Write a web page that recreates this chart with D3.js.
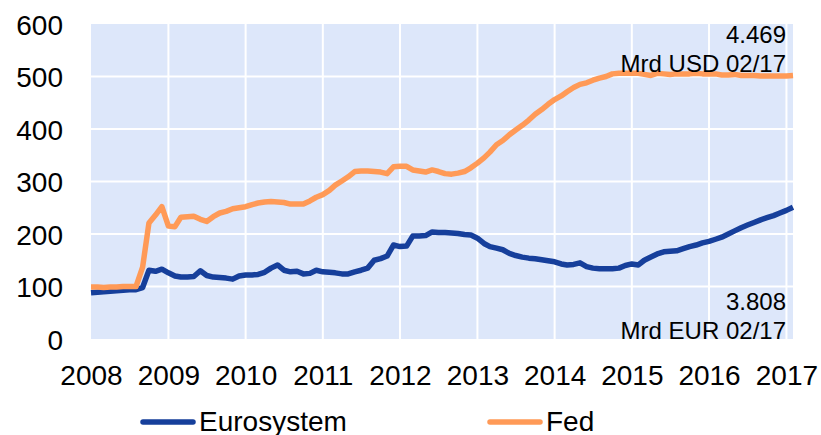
<!DOCTYPE html>
<html>
<head>
<meta charset="utf-8">
<script src="https://cdn.jsdelivr.net/npm/d3@7"></script>
<style>
body { margin: 0; background: #fff; }
svg { display: block; font-family: "Liberation Sans", Arial, sans-serif; }
</style>
</head>
<body>
<div id="chart"></div>
<script>
// monthly index values, Jan 2008 = ~100, from 01/2008 to 02/2017
var startMonth = "2008-01";
var eurosystem = [
    88, 89, 90, 91, 92, 93, 94, 94, 98, 131, 129, 133,
    126, 120, 118, 118, 119, 130, 121, 118, 117, 116, 114, 120,
    122, 122, 123, 127, 135, 141, 131, 128, 129, 124, 125, 131,
    128, 127, 126, 124, 124, 128, 131, 135, 150, 153, 158, 179,
    176, 177, 196, 196, 197, 204, 203, 203, 202, 201, 199, 198,
    192, 182, 176, 173, 170, 163, 159, 156, 154, 153, 151, 149,
    147, 143, 141, 142, 145, 138, 135, 134, 134, 134, 135, 140,
    143, 141, 150, 156, 162, 166, 167, 168, 172, 176, 179, 183,
    186, 190, 194, 200, 206, 212, 217, 222, 227, 231, 235, 240,
    245, 251
];
var fed = [
    99, 99, 98, 99, 99, 100, 100, 100, 137, 221, 236, 252,
    215, 214, 232, 233, 234, 228, 224, 233, 240, 243, 248, 250,
    252, 256, 259, 261, 262, 261, 260, 257, 257, 257, 263, 270,
    275, 283, 293, 301, 309, 319, 320, 320, 319, 318, 315, 328,
    329, 329, 322, 320, 318, 322, 319, 315, 314, 316, 319, 326,
    335, 345, 356, 370, 378, 389, 398, 407, 417, 428, 437, 447,
    456, 463, 471, 479, 485, 488, 493, 497, 500, 505, 506, 506,
    506, 506, 504, 502, 506, 505, 504, 505, 505, 505, 506, 505,
    505, 505, 503, 503, 504, 502, 502, 502, 501, 501, 501, 501,
    501, 502
];
var seriesNames = ["Eurosystem", "Fed"];
var seriesColors = ["#163f9b", "#ff9a57"];
var yTicks = [0, 100, 200, 300, 400, 500, 600];
var xYears = [2008, 2009, 2010, 2011, 2012, 2013, 2014, 2015, 2016, 2017];
var fedNote = ["4.469", "Mrd USD 02/17"];
var eurNote = ["3.808", "Mrd EUR 02/17"];

var width = 821;
var height = 435;
var plot = { left: 91, right: 793, top: 24, bottom: 339 };

var parseMonth = d3.timeParse("%Y-%m");
var start = parseMonth(startMonth);
var dates = eurosystem.map(function (d, i) { return d3.timeMonth.offset(start, i); });

var x = d3.scaleTime()
    .domain([start, dates[dates.length - 1]])
    .range([plot.left, plot.right]);
var y = d3.scaleLinear()
    .domain([0, 600])
    .range([plot.bottom, plot.top]);

var svg = d3.select("#chart").append("svg")
    .attr("width", width)
    .attr("height", height);

svg.append("rect")
    .attr("x", plot.left)
    .attr("y", plot.top)
    .attr("width", plot.right - plot.left)
    .attr("height", plot.bottom - plot.top)
    .attr("fill", "#dde7fa");

// gridlines
svg.append("g").selectAll("line").data(yTicks.filter(function (d) { return d > 0 && d < 600; }))
    .enter().append("line")
    .attr("x1", plot.left)
    .attr("x2", plot.right)
    .attr("y1", function (d) { return y(d); })
    .attr("y2", function (d) { return y(d); })
    .attr("stroke", "#fff")
    .attr("stroke-width", 2);

svg.append("g").selectAll("line").data(xYears.slice(1))
    .enter().append("line")
    .attr("x1", function (d) { return x(new Date(d, 0, 1)); })
    .attr("x2", function (d) { return x(new Date(d, 0, 1)); })
    .attr("y1", plot.top)
    .attr("y2", plot.bottom)
    .attr("stroke", "#fff")
    .attr("stroke-width", 2);

// axes (labels only)
var yAxis = svg.append("g")
    .attr("transform", "translate(" + (plot.left - 28) + ",0)")
    .call(d3.axisLeft(y).tickValues(yTicks).tickSize(0).tickPadding(0));
var xAxis = svg.append("g")
    .attr("transform", "translate(0," + plot.bottom + ")")
    .call(d3.axisBottom(x)
        .tickValues(xYears.map(function (d) { return new Date(d, 0, 1); }))
        .tickFormat(d3.timeFormat("%Y"))
        .tickSize(0).tickPadding(26));
[yAxis, xAxis].forEach(function (ax) {
    ax.select(".domain").remove();
    ax.selectAll("text")
        .attr("font-family", "Liberation Sans, Arial, sans-serif")
        .attr("font-size", 28)
        .attr("fill", "#000");
});
yAxis.selectAll("text").attr("dy", "0.36em");

// lines
var line = d3.line()
    .x(function (d, i) { return x(dates[i]); })
    .y(function (d) { return y(d); });

[eurosystem, fed].forEach(function (s, k) {
    svg.append("path")
        .datum(s)
        .attr("d", line)
        .attr("fill", "none")
        .attr("stroke", seriesColors[k])
        .attr("stroke-width", 5.5)
        .attr("stroke-linejoin", "round");
});

// notes
function note(lines, baseline) {
    svg.append("g").selectAll("text").data(lines)
        .enter().append("text")
        .attr("x", 786)
        .attr("y", function (d, i) { return baseline + i * 29; })
        .attr("text-anchor", "end")
        .attr("font-size", 24)
        .attr("fill", "#000")
        .text(function (d) { return d; });
}
note(fedNote, 43);
note(eurNote, 310);

// legend
var legendX = [143, 490];
var legend = svg.append("g").selectAll("g").data(seriesNames)
    .enter().append("g")
    .attr("transform", function (d, i) { return "translate(" + legendX[i] + ",422)"; });
legend.append("line")
    .attr("x1", 0)
    .attr("x2", 50)
    .attr("stroke", function (d, i) { return seriesColors[i]; })
    .attr("stroke-width", 5.5)
    .attr("stroke-linecap", "round");
legend.append("text")
    .attr("x", 56)
    .attr("y", 9)
    .attr("font-size", 28)
    .attr("fill", "#000")
    .text(function (d) { return d; });
</script>
</body>
</html>
